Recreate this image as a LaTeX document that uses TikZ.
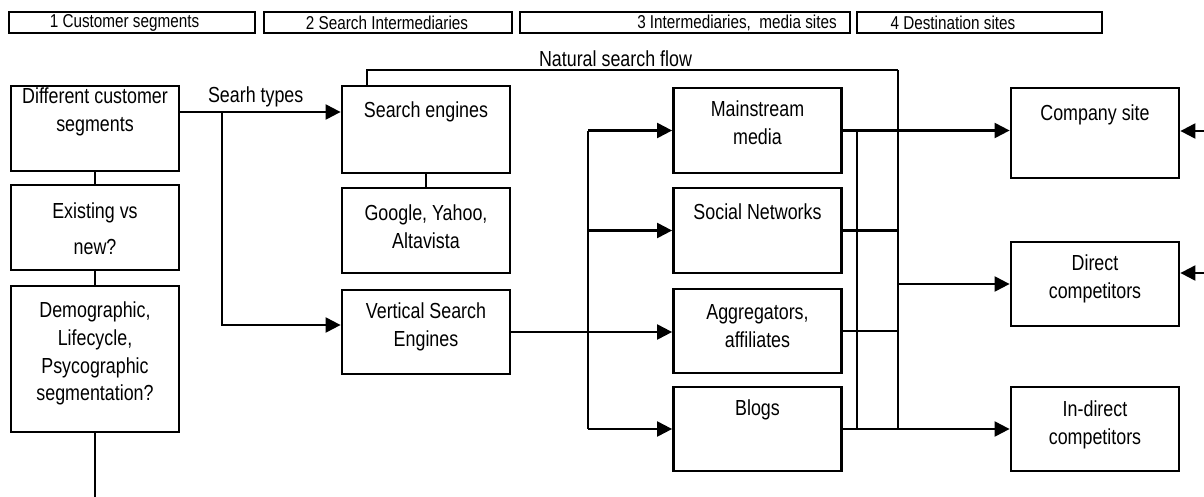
\documentclass[tikz,border=0pt]{standalone}
\usepackage{fontspec}
\setmainfont[FakeStretch=0.82]{Liberation Sans}
\usetikzlibrary{arrows.meta}

\tikzset{
  box/.style={draw, line width=1.6pt, minimum width=3.36cm, inner sep=0pt},
  hdr/.style={draw, line width=0.8pt, minimum height=0.42cm, inner sep=0pt},
  txt/.style={align=center, font=\fontsize{12.4}{15.8}\selectfont, inner sep=0pt},
  htxt/.style={font=\fontsize{10.6}{12}\selectfont, inner sep=0pt},
  link/.style={line width=1.2pt},
  flow/.style={link, -{Triangle[length=0.3cm,width=0.3cm]}},
}

\begin{document}
\begin{tikzpicture}[x=0.02cm, y=-0.02cm]
\useasboundingbox (0,0) rectangle (1204,497);

% column headers
\node[hdr, minimum width=4.92cm] (h1) at (132,22.5) {};
\node[hdr, minimum width=4.96cm] (h2) at (388,22.5) {};
\node[hdr, minimum width=6.6cm] (h3) at (685,22.5) {};
\node[hdr, minimum width=4.9cm] (h4) at (979.5,22.5) {};
\node[htxt] (h1t) at (124.5,23) {1 Customer segments};
\node[htxt] (h2t) at (387,23) {2 Search Intermediaries};
\node[htxt] (h3t) at (737,23) {3 Intermediaries,\ \ media sites};
\node[htxt] (h4t) at (953,23) {4 Destination sites};

% customer segments
\node[box, minimum height=1.7cm] (seg) at (95,128.5) {};
\node[box, minimum height=1.7cm] (exist) at (95,227.5) {};
\node[box, minimum height=2.92cm] (demo) at (95,359) {};
\node[txt] (segt) at (95,111.5) {Different customer\\segments};
\node[txt] (existt) at (95,228.5) {Existing vs\\[5pt]new?};
\node[txt] (demot) at (95,353.5) {Demographic,\\Lifecycle,\\Psycographic\\segmentation?};

% search intermediaries
\node[box, minimum height=1.74cm] (se) at (426,129.5) {};
\node[box, minimum height=1.7cm] (goog) at (426,230.5) {};
\node[box, minimum height=1.68cm] (vse) at (426,332) {};
\node[txt] (set) at (426,112) {Search engines};
\node[txt] (googt) at (426,227) {Google, Yahoo,\\Altavista};
\node[txt] (vset) at (426,326.5) {Vertical Search\\Engines};

% media sites
\node[box, minimum height=1.7cm] (msm) at (757.5,130.5) {};
\node[box, minimum height=1.7cm] (soc) at (757.5,230.5) {};
\node[box, minimum height=1.68cm] (agg) at (757.5,331) {};
\node[box, minimum height=1.68cm] (blog) at (757.5,429) {};
\node[txt] (msmt) at (757.5,123) {Mainstream\\media};
\node[txt] (soct) at (757.5,212) {Social Networks};
\node[txt] (aggt) at (757.5,326) {Aggregators,\\affiliates};
\node[txt] (blogt) at (757.5,410) {Blogs};

% destination sites
\node[box, minimum height=1.8cm] (comp) at (1095,133) {};
\node[box, minimum height=1.68cm] (dir) at (1095,284) {};
\node[box, minimum height=1.68cm] (indir) at (1095,429) {};
\node[txt] (compt) at (1095,115) {Company site};
\node[txt] (dirt) at (1095,279) {Direct\\competitors};
\node[txt] (indirt) at (1095,424.5) {In-direct\\competitors};

% junction points
\coordinate (tail) at (95,497);
\coordinate (split) at (222,112);
\coordinate (natc) at (898,70);
\coordinate (hx) at (588,0);
\coordinate (lx) at (857,0);
\coordinate (inc) at (1204,131);
\coordinate (ind) at (1204,273);

% left column
\draw[link] (seg.south) -- (exist.north);
\draw[link] (exist.south) -- (demo.north);
\draw[link] (demo.south) -- (tail);
\draw[flow] (seg.east |- split) -- (se.west |- split)
  node[txt, pos=0.47, above=2pt] (types) {Searh types};
\draw[flow] (split) |- ([yshift=0.14cm]vse.west);
\draw[link] (se.south) -- (goog.north);

% natural search flow
\draw[link] ([xshift=-1.18cm]se.north) |- (natc)
  node[txt, pos=0.734, above=1pt] (natt) {Natural search flow};
\draw[link] (natc) -- (natc |- blog.east);

% into media sites
\draw[link] (hx |- msm.west) -- (hx |- blog.west);
\draw[flow] (hx |- msm.west) -- (msm.west);
\draw[flow] (hx |- soc.west) -- (soc.west);
\draw[flow] (vse.east) -- (vse.east -| agg.west);
\draw[flow] (hx |- blog.west) -- (blog.west);

% into destination sites
\draw[flow] (msm.east) -- (msm.east -| comp.west);
\draw[link] (lx |- msm.east) -- (lx |- blog.east);
\draw[link] (soc.east) -- (soc.east -| natc);
\draw[link] (agg.east) -- (agg.east -| natc);
\draw[flow] (blog.east) -- (blog.east -| indir.west);
\draw[flow] (natc |- dir.west) -- (dir.west);
\draw[flow] (inc) -- (inc -| comp.east);
\draw[flow] (ind) -- (ind -| dir.east);
\end{tikzpicture}
\end{document}
